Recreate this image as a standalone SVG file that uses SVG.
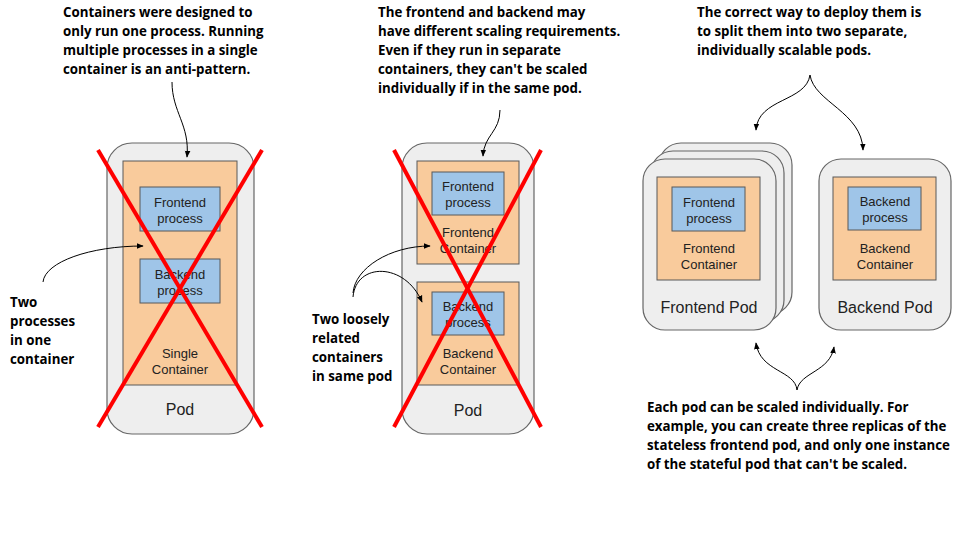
<svg xmlns="http://www.w3.org/2000/svg" width="960" height="540" viewBox="0 0 960 540">
<defs>
<marker id="ah" viewBox="0 0 10 10" refX="9" refY="5" markerWidth="7" markerHeight="7" orient="auto-start-reverse" markerUnits="userSpaceOnUse">
<path d="M0,1 L10,5 L0,9 z" fill="#000"/>
</marker>
<style>
.pod{fill:#eeeeee;stroke:#666666;stroke-width:1.2}
.ctr{fill:#f9cb9c;stroke:#595959;stroke-width:1}
.proc{fill:#9fc5e8;stroke:#595959;stroke-width:1}
.lbl{font-family:"Liberation Sans",Arial,sans-serif;font-size:13px;fill:#222;text-anchor:middle}
.podl{font-family:"Liberation Sans",Arial,sans-serif;font-size:16px;fill:#222;text-anchor:middle}
.note{font-family:"Open Sans","Lato",sans-serif;font-weight:bold;font-size:13.3px;fill:#000}
.conn{fill:none;stroke:#000;stroke-width:1;marker-end:url(#ah)}
.x{stroke:#ff0000;stroke-width:4;fill:none}
</style>
</defs>
<rect width="960" height="540" fill="#fff"/>

<!-- Panel 1 -->
<g id="pod1">
<rect class="pod" x="107" y="143" width="147" height="291" rx="25"/>
<text class="podl" x="180" y="415">Pod</text>
</g>
<g id="single-container">
<rect class="ctr" x="123" y="161" width="114" height="224"/>
<text class="lbl" x="180" y="358">Single</text>
<text class="lbl" x="180" y="374">Container</text>
</g>
<g id="p1-frontend-process">
<rect class="proc" x="140" y="187" width="80" height="44"/>
<text class="lbl" x="180" y="207">Frontend</text>
<text class="lbl" x="180" y="223">process</text>
</g>
<g id="p1-backend-process">
<rect class="proc" x="140" y="259" width="80" height="44"/>
<text class="lbl" x="180" y="279">Backend</text>
<text class="lbl" x="180" y="295">process</text>
</g>
<g id="cross1">
<line class="x" x1="98" y1="150" x2="262" y2="427"/>
<line class="x" x1="262" y1="150" x2="98" y2="427"/>
</g>
<g id="note1">
<text class="note" x="63" y="17">Containers were designed to</text>
<text class="note" x="63" y="36">only run one process. Running</text>
<text class="note" x="63" y="55">multiple processes in a single</text>
<text class="note" x="63" y="74">container is an anti-pattern.</text>
</g>
<g id="note2">
<text class="note" x="10" y="307">Two</text>
<text class="note" x="10" y="326">processes</text>
<text class="note" x="10" y="345">in one</text>
<text class="note" x="10" y="364">container</text>
</g>

<!-- Panel 2 -->
<g id="pod2">
<rect class="pod" x="402" y="143" width="132" height="291" rx="25"/>
<text class="podl" x="468" y="416">Pod</text>
</g>
<g id="p2-frontend-container">
<rect class="ctr" x="417" y="161" width="102" height="103"/>
<text class="lbl" x="468" y="237">Frontend</text>
<text class="lbl" x="468" y="253">Container</text>
</g>
<g id="p2-frontend-process">
<rect class="proc" x="432" y="172" width="72" height="43"/>
<text class="lbl" x="468" y="191">Frontend</text>
<text class="lbl" x="468" y="207">process</text>
</g>
<g id="p2-backend-container">
<rect class="ctr" x="417" y="282" width="102" height="103"/>
<text class="lbl" x="468" y="358">Backend</text>
<text class="lbl" x="468" y="374">Container</text>
</g>
<g id="p2-backend-process">
<rect class="proc" x="432" y="292" width="72" height="43"/>
<text class="lbl" x="468" y="311">Backend</text>
<text class="lbl" x="468" y="327">process</text>
</g>
<g id="cross2">
<line class="x" x1="394" y1="150" x2="541" y2="427"/>
<line class="x" x1="541" y1="150" x2="394" y2="427"/>
</g>
<g id="note3">
<text class="note" x="378" y="17">The frontend and backend may</text>
<text class="note" x="378" y="36">have different scaling requirements.</text>
<text class="note" x="378" y="55">Even if they run in separate</text>
<text class="note" x="378" y="74">containers, they can't be scaled</text>
<text class="note" x="378" y="93">individually if in the same pod.</text>
</g>
<g id="note4">
<text class="note" x="312" y="324">Two loosely</text>
<text class="note" x="312" y="343">related</text>
<text class="note" x="312" y="362">containers</text>
<text class="note" x="312" y="381">in same pod</text>
</g>

<!-- Panel 3 -->
<g id="frontend-pod">
<rect class="pod" x="659" y="143" width="133" height="171" rx="22"/>
<rect class="pod" x="651" y="151" width="133" height="171" rx="22"/>
<rect class="pod" x="643" y="159" width="133" height="171" rx="22"/>
<text class="podl" x="709" y="313">Frontend Pod</text>
</g>
<g id="p3-frontend-container">
<rect class="ctr" x="657" y="177" width="103" height="103"/>
<text class="lbl" x="709" y="253">Frontend</text>
<text class="lbl" x="709" y="269">Container</text>
</g>
<g id="p3-frontend-process">
<rect class="proc" x="672" y="187" width="73" height="44"/>
<text class="lbl" x="709" y="207">Frontend</text>
<text class="lbl" x="709" y="223">process</text>
</g>
<g id="backend-pod">
<rect class="pod" x="819" y="159" width="132" height="171" rx="22"/>
<text class="podl" x="885" y="313">Backend Pod</text>
</g>
<g id="p3-backend-container">
<rect class="ctr" x="833" y="177" width="103" height="103"/>
<text class="lbl" x="885" y="253">Backend</text>
<text class="lbl" x="885" y="269">Container</text>
</g>
<g id="p3-backend-process">
<rect class="proc" x="848" y="187" width="73" height="43"/>
<text class="lbl" x="885" y="206">Backend</text>
<text class="lbl" x="885" y="222">process</text>
</g>
<g id="note5">
<text class="note" x="697" y="17">The correct way to deploy them is</text>
<text class="note" x="697" y="36">to split them into two separate,</text>
<text class="note" x="697" y="55">individually scalable pods.</text>
</g>
<g id="note6">
<text class="note" x="647" y="412">Each pod can be scaled individually. For</text>
<text class="note" x="647" y="431">example, you can create three replicas of the</text>
<text class="note" x="647" y="450">stateless frontend pod, and only one instance</text>
<text class="note" x="647" y="469">of the stateful pod that can't be scaled.</text>
</g>

<g id="connectors">
<path class="conn" d="M172,82 C172,112 190,125 187,157"/>
<path class="conn" d="M43,282 C45,262 90,246 143,246"/>
<path class="conn" d="M500,110 C500,132 484,135 483,156"/>
<path class="conn" d="M353,293 C355,268 390,246 430,246"/>
<path class="conn" d="M353,297 C356,262 405,262 422,302"/>
<path class="conn" d="M810,75 C806,102 758,98 756,130"/>
<path class="conn" d="M810,75 C814,102 862,112 863,150"/>
<path class="conn" d="M797,390 C795,370 760,372 756,343"/>
<path class="conn" d="M797,390 C800,372 830,372 834,347"/>
</g>
</svg>
